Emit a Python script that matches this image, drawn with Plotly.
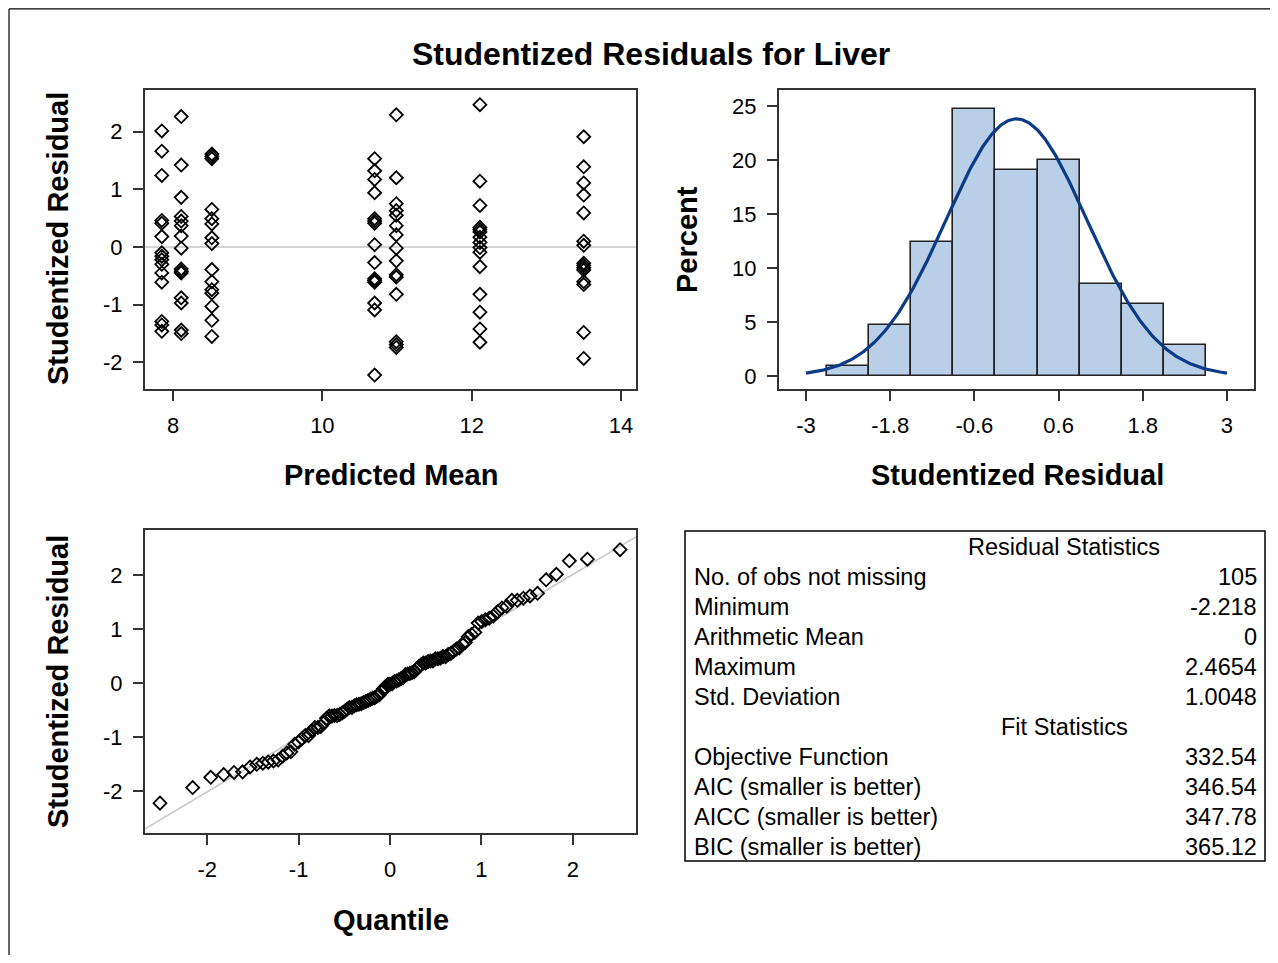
import numpy as np
import plotly.graph_objects as go
from statistics import NormalDist

# ---------------- data ----------------
predicted_means = [7.85, 8.11, 8.52, 10.70, 10.99, 12.11, 13.50]
residuals_by_group = [
    [2.01, 1.66, 1.24, 0.46, 0.41, 0.18, -0.10, -0.16, -0.22, -0.30, -0.45, -0.61, -1.29, -1.35, -1.46],
    [2.26, 1.42, 0.86, 0.53, 0.45, 0.37, 0.19, -0.02, -0.38, -0.42, -0.45, -0.88, -0.97, -1.44, -1.50],
    [1.61, 1.57, 1.53, 0.65, 0.49, 0.40, 0.16, 0.06, -0.39, -0.60, -0.74, -0.80, -1.03, -1.27, -1.55],
    [1.53, 1.32, 1.17, 0.94, 0.49, 0.45, 0.41, 0.04, -0.27, -0.55, -0.58, -0.61, -0.97, -1.09, -2.218],
    [2.29, 1.20, 0.75, 0.63, 0.55, 0.37, 0.21, -0.02, -0.24, -0.48, -0.52, -0.82, -1.64, -1.69, -1.74],
    [2.4654, 1.14, 0.72, 0.34, 0.30, 0.26, 0.17, 0.08, -0.01, -0.09, -0.34, -0.82, -1.13, -1.42, -1.65],
    [1.91, 1.39, 1.11, 0.90, 0.59, 0.10, 0.03, -0.28, -0.32, -0.36, -0.40, -0.60, -0.65, -1.48, -1.93],
]
scatter_x_ticks = [8, 10, 12, 14]
resid_ticks = [-2, -1, 0, 1, 2]
resid_tick_text = ["-2", "-1", "0", "1", "2"]
quantile_ticks = [-2, -1, 0, 1, 2]
quantile_tick_text = ["-2", "-1", "0", "1", "2"]

hist_bin_centers = [-2.4, -1.8, -1.2, -0.6, 0.0, 0.6, 1.2, 1.8, 2.4]
hist_percent = [0.95, 4.76, 12.38, 24.76, 19.05, 20.00, 8.57, 6.67, 2.86]
hist_bin_width = 0.6
hist_tick_vals = [-3, -1.8, -0.6, 0.6, 1.8, 3]
hist_tick_text = ["-3", "-1.8", "-0.6", "0.6", "1.8", "3"]
percent_ticks = [0, 5, 10, 15, 20, 25]

resid_mean = 0.0
resid_std = 1.0048

stats_title = "Residual Statistics"
stats_labels = ["No. of obs not missing", "Minimum", "Arithmetic Mean", "Maximum", "Std. Deviation"]
stats_values = ["105", "-2.218", "0", "2.4654", "1.0048"]
fit_title = "Fit Statistics"
fit_labels = ["Objective Function", "AIC (smaller is better)", "AICC (smaller is better)", "BIC (smaller is better)"]
fit_values = ["332.54", "346.54", "347.78", "365.12"]

# ---------------- derived ----------------
scatter_x = [m for m, g in zip(predicted_means, residuals_by_group) for _ in g]
scatter_y = [r for g in residuals_by_group for r in g]
n = len(scatter_y)
sorted_res = sorted(scatter_y)
nd = NormalDist()
qq_x = [nd.inv_cdf((i + 1 - 0.375) / (n + 0.25)) for i in range(n)]

curve_x = np.linspace(-3, 3, 300)
curve_y = 100 * hist_bin_width * np.exp(-0.5 * ((curve_x - resid_mean) / resid_std) ** 2) / (resid_std * np.sqrt(2 * np.pi))

# ---------------- layout helpers ----------------
W, H = 1262, 947
OX, OY = 8, 8


def px(x):
    return (x - OX) / W


def py(y):
    return 1 - (y - OY) / H


FONT = "Liberation Sans, Arial, sans-serif"
AX = "#333333"
TICKF = dict(family=FONT, size=22, color="black")

fig = go.Figure()

marker = dict(symbol="diamond-open", size=10, color="black", line=dict(width=1.8, color="black"))

fig.add_trace(go.Scatter(x=scatter_x, y=scatter_y, mode="markers", marker=marker,
                         xaxis="x", yaxis="y", showlegend=False))

fig.add_trace(go.Bar(x=hist_bin_centers, y=hist_percent, width=hist_bin_width,
                     marker=dict(color="#B9CFE7", line=dict(color="#222222", width=1.6)),
                     xaxis="x2", yaxis="y2", showlegend=False))
fig.add_trace(go.Scatter(x=curve_x, y=curve_y, mode="lines",
                         line=dict(color="#0C3A86", width=3.2),
                         xaxis="x2", yaxis="y2", showlegend=False))

qq_line_x = [-2.7, 2.7]
fig.add_trace(go.Scatter(x=qq_line_x, y=[resid_mean + resid_std * v for v in qq_line_x], mode="lines",
                         line=dict(color="#C8C8C8", width=1.6),
                         xaxis="x3", yaxis="y3", showlegend=False))
fig.add_trace(go.Scatter(x=qq_x, y=sorted_res, mode="markers", marker=marker,
                         xaxis="x3", yaxis="y3", showlegend=False))

axis_common = dict(showline=True, mirror=True, linecolor=AX, linewidth=2, ticks="outside",
                   ticklen=10, tickwidth=1.5, tickcolor=AX, showgrid=False, zeroline=False,
                   tickfont=TICKF, ticklabelstandoff=6)

sc_dom_x = [px(145), px(636)]
top_dom_y = [py(389), py(90)]
hist_dom_x = [px(779), px(1254)]
qq_dom_y = [py(833), py(530)]

fig.update_layout(
    width=W, height=H, autosize=False,
    margin=dict(l=0, r=0, t=0, b=0),
    paper_bgcolor="white", plot_bgcolor="white",
    font=dict(family=FONT, color="black"),
    xaxis=dict(domain=sc_dom_x, range=[7.625, 14.2], tickvals=scatter_x_ticks, anchor="y", **axis_common),
    yaxis=dict(domain=top_dom_y, range=[-2.46, 2.72], tickvals=resid_ticks, ticktext=resid_tick_text,
               anchor="x", **axis_common),
    xaxis2=dict(domain=hist_dom_x, range=[-3.385, 3.385], tickvals=hist_tick_vals, ticktext=hist_tick_text,
                anchor="y2", **axis_common),
    yaxis2=dict(domain=top_dom_y, range=[-1.2, 26.5], tickvals=percent_ticks, anchor="x2", **axis_common),
    xaxis3=dict(domain=sc_dom_x, range=[-2.68, 2.69], tickvals=quantile_ticks, ticktext=quantile_tick_text,
                anchor="y3", **axis_common),
    yaxis3=dict(domain=qq_dom_y, range=[-2.77, 2.83], tickvals=resid_ticks, ticktext=resid_tick_text,
                anchor="x3", **axis_common),
    bargap=0,
)

shapes = [
    # zero reference line in residual vs predicted
    dict(type="line", xref="x domain", yref="y", x0=0, x1=1, y0=0, y1=0,
         line=dict(color="#D4D4D4", width=2), layer="below"),
    # outer frame (left & top)
    dict(type="line", xref="paper", yref="paper", x0=0.0008, x1=0.0008, y0=0, y1=0.999,
         line=dict(color="black", width=1.2)),
    dict(type="line", xref="paper", yref="paper", x0=0.0008, x1=1, y0=0.999, y1=0.999,
         line=dict(color="black", width=1.2)),
    # table box
    dict(type="rect", xref="paper", yref="paper", x0=px(685), x1=px(1265), y0=py(861), y1=py(531),
         line=dict(color="black", width=1.5), fillcolor="rgba(0,0,0,0)"),
]

annotations = []
TF = 32
AF = 29
annotations.append(dict(text="<b>Studentized Residuals for Liver</b>", x=px(651), y=py(54), xref="paper", yref="paper",
                        showarrow=False, xanchor="center", yanchor="middle", font=dict(size=TF, family=FONT)))


def title(text, x, y, angle=0):
    annotations.append(dict(text="<b>%s</b>" % text, x=px(x), y=py(y), xref="paper", yref="paper",
                            showarrow=False, xanchor="center", yanchor="middle", textangle=angle,
                            font=dict(size=AF, family=FONT)))


title("Predicted Mean", 391, 475)
title("Studentized Residual", 58, 239, -90)
title("Percent", 687, 240, -90)
title("Studentized Residual", 1017, 475)
title("Quantile", 391, 920)
title("Studentized Residual", 58, 682, -90)

TBF = dict(size=23.5, family=FONT, color="black")
row_y0 = 547
row_h = 30
rows = [(stats_title, None, True)] + [(l, v, False) for l, v in zip(stats_labels, stats_values)] + \
       [(fit_title, None, True)] + [(l, v, False) for l, v in zip(fit_labels, fit_values)]
for i, (lab, val, header) in enumerate(rows):
    yy = py(row_y0 + i * row_h)
    if header:
        annotations.append(dict(text=lab, x=px(1064), y=yy, xref="paper", yref="paper", showarrow=False,
                                xanchor="center", yanchor="middle", font=TBF))
    else:
        annotations.append(dict(text=lab, x=px(692), y=yy, xref="paper", yref="paper", showarrow=False,
                                xanchor="left", yanchor="middle", font=TBF))
        annotations.append(dict(text=val, x=px(1259), y=yy, xref="paper", yref="paper", showarrow=False,
                                xanchor="right", yanchor="middle", font=TBF))

fig.update_layout(shapes=shapes, annotations=annotations)

fig.write_html("out.html")
